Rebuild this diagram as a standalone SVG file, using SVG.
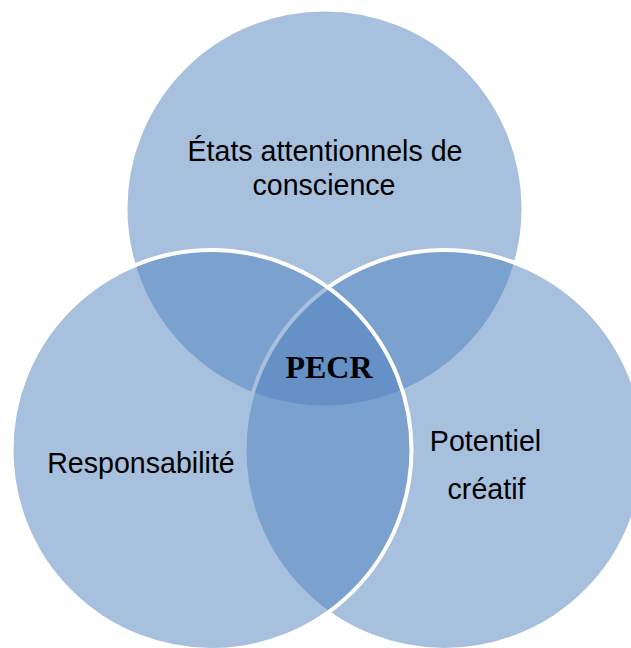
<svg xmlns="http://www.w3.org/2000/svg" width="631" height="648" viewBox="0 0 631 648">
<style>
.c{fill:#4F81BD;fill-opacity:0.5;stroke:#FFFFFF;stroke-width:4}
.t{font-family:"Liberation Sans",Arial,sans-serif;font-size:28.6px;fill:#000000;text-anchor:middle}
.p{font-family:"Liberation Serif","Times New Roman",serif;font-size:32px;font-weight:bold;fill:#000000;text-anchor:middle}
</style>
<rect width="631" height="648" fill="#FFFFFF"/>
<g id="etats">
<circle class="c" cx="324.5" cy="208.5" r="199"/>
<text class="t" x="325" y="160.5">États attentionnels de</text>
<text class="t" x="324" y="195">conscience</text>
</g>
<g id="potentiel">
<circle class="c" cx="444.5" cy="450" r="200"/>
<text class="t" x="485.5" y="450.5">Potentiel</text>
<text class="t" x="486.5" y="499">créatif</text>
</g>
<g id="responsabilite">
<circle class="c" cx="211.5" cy="450" r="200"/>
<text class="t" x="141" y="472.5">Responsabilité</text>
</g>
<g id="pecr">
<text class="p" x="329" y="377.5">PECR</text>
</g>
</svg>
